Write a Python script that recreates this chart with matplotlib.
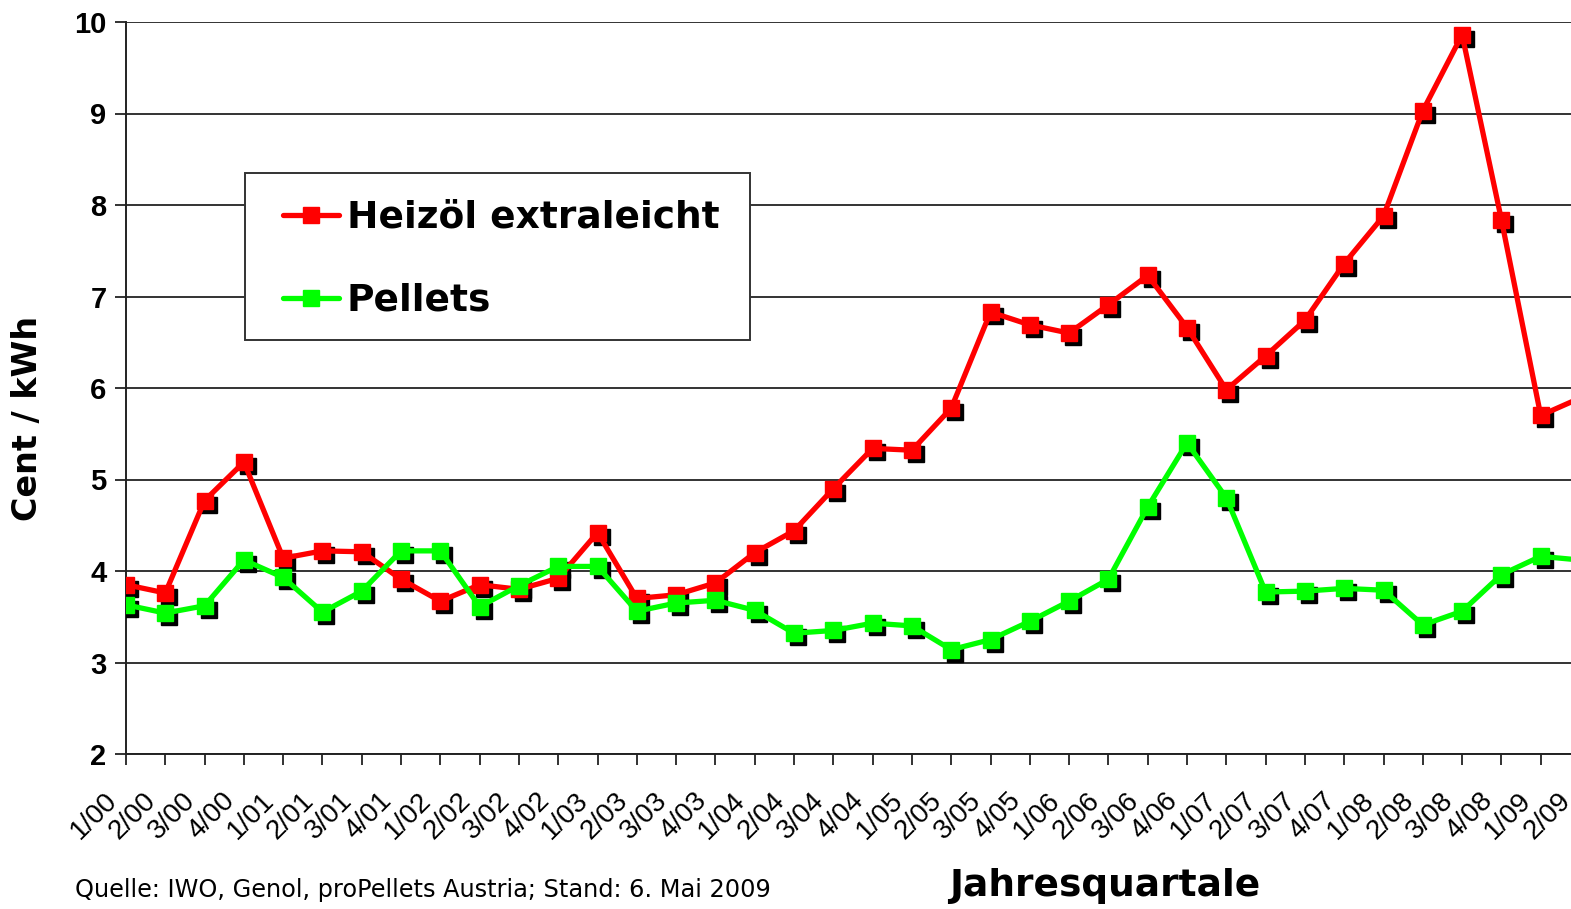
import matplotlib
import matplotlib.pyplot as plt
from matplotlib.patches import Rectangle
from matplotlib.transforms import offset_copy, ScaledTranslation

matplotlib.use("Agg")

quartale = [
    "1/00", "2/00", "3/00", "4/00", "1/01", "2/01", "3/01", "4/01",
    "1/02", "2/02", "3/02", "4/02", "1/03", "2/03", "3/03", "4/03",
    "1/04", "2/04", "3/04", "4/04", "1/05", "2/05", "3/05", "4/05",
    "1/06", "2/06", "3/06", "4/06", "1/07", "2/07", "3/07", "4/07",
    "1/08", "2/08", "3/08", "4/08", "1/09", "2/09",
]

heizoel = [
    3.85, 3.76, 4.77, 5.19, 4.14, 4.22, 4.21, 3.91,
    3.67, 3.85, 3.80, 3.92, 4.42, 3.70, 3.74, 3.87,
    4.20, 4.44, 4.90, 5.34, 5.32, 5.78, 6.83, 6.69,
    6.60, 6.91, 7.23, 6.66, 5.98, 6.35, 6.74, 7.36,
    7.88, 9.03, 9.86, 7.84, 5.70, 5.89,
]

pellets = [
    3.63, 3.54, 3.62, 4.12, 3.93, 3.55, 3.78, 4.22,
    4.22, 3.61, 3.84, 4.05, 4.05, 3.56, 3.65, 3.68,
    3.57, 3.32, 3.35, 3.43, 3.40, 3.14, 3.25, 3.45,
    3.67, 3.91, 4.70, 5.40, 4.80, 3.77, 3.78, 3.81,
    3.79, 3.41, 3.56, 3.96, 4.16, 4.12,
]

W, H = 1571, 909
fig = plt.figure(figsize=(W / 100, H / 100), dpi=100)

# plot area runs past the right edge of the picture (2/09 is cut off)
left, top, bottom, right = 126, 22, 754, 1580
ax = fig.add_axes([left / W, 1 - bottom / H, (right - left) / W, (bottom - top) / H])

x = list(range(len(quartale)))
shadow = offset_copy(ax.transData, fig=fig, x=4, y=-4, units="dots")

for vals, col, name in [(heizoel, "#ff0000", "Heizöl extraleicht"), (pellets, "#00ff00", "Pellets")]:
    ax.plot(x, vals, ls="none", marker="s", ms=12, color="black", transform=shadow, zorder=3)
    ax.plot(x, vals, color=col, lw=3.8, marker="s", ms=12, mec=col, label=name, zorder=4,
            solid_capstyle="round")

ax.set_ylim(2, 10)
ax.set_yticks(range(2, 11))
ax.set_xticks(x)
ax.set_xticklabels(quartale, rotation=45, ha="right", va="center", rotation_mode="anchor",
                   family="Liberation Sans", fontsize=20)
ax.set_xlim(0, len(quartale) - 1)
for lab in ax.get_yticklabels():
    lab.set_family("Liberation Sans")
    lab.set_fontsize(21)
    lab.set_fontweight("bold")

ax.yaxis.grid(True, color="#333333", lw=1.4)
ax.set_axisbelow(True)
ax.tick_params(axis="both", direction="out", length=8, width=1.3, color="#222222")
ax.tick_params(axis="y", pad=6)
ax.tick_params(axis="x", pad=23)

# labels sit a bit to the left of their tick, like in the original
# (done after tick_params, which would reset the transforms)
shift = ScaledTranslation(-0.13, 0, fig.dpi_scale_trans)
for lab in ax.get_xticklabels():
    lab.set_transform(lab.get_transform() + shift)

for s in ["top", "right"]:
    ax.spines[s].set_visible(False)
for s in ["left", "bottom"]:
    ax.spines[s].set_color("#222222")
    ax.spines[s].set_linewidth(1.4)

# legend frame drawn separately so its padding can match the original box
box = Rectangle((245 / W, 1 - 340 / H), (750 - 245) / W, (340 - 173) / H, transform=fig.transFigure,
                facecolor="white", edgecolor="#333333", lw=1.4, zorder=5)
ax.add_patch(box)
box.set_clip_on(False)

leg = ax.legend(loc="upper left", bbox_to_anchor=(283 / W, 1 - 200 / H), bbox_transform=fig.transFigure,
                borderaxespad=0, borderpad=0, frameon=False,
                prop={"family": "DejaVu Sans", "weight": "bold", "size": 27},
                handlelength=1.5, handletextpad=0.2, labelspacing=1.25)
leg.set_zorder(10)

fig.text(28 / W, 1 - 418 / H, "Cent / kWh", rotation=90, ha="center", va="center",
         family="DejaVu Sans", weight="bold", fontsize=24)
fig.text(1105 / W, 1 - 886 / H, "Jahresquartale", ha="center", va="center",
         family="DejaVu Sans", weight="bold", fontsize=27)
fig.text(75 / W, 1 - 890 / H, "Quelle: IWO, Genol, proPellets Austria; Stand: 6. Mai 2009",
         ha="left", va="center", family="DejaVu Sans", fontsize=17.3)

fig.savefig("out.png", dpi=100)
